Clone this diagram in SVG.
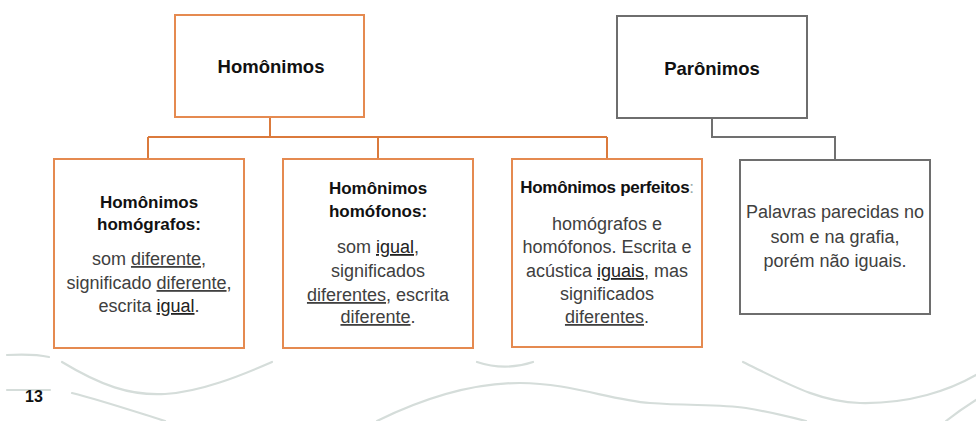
<svg xmlns="http://www.w3.org/2000/svg" width="976" height="421" viewBox="0 0 976 421">
<style>
.bo{fill:#fff;stroke:#E58A50;stroke-width:2}
.bg{fill:#fff;stroke:#6e6e6e;stroke-width:2}
.co{fill:none;stroke:#DB7A3C;stroke-width:2}
.cg{fill:none;stroke:#707070;stroke-width:2}
.sw{fill:none;stroke:#D5DDDA;stroke-width:2.2;stroke-linecap:round}
.t{font-family:"Liberation Sans",Arial,sans-serif;text-anchor:middle}
.h1{font-size:18.5px;font-weight:bold;fill:#111}
.h2{font-size:17px;font-weight:bold;fill:#111}
.b{font-size:18px;fill:#404040}
.u{text-decoration:underline}
</style>
<g id="decor">
<path class="sw" d="M7,355 C25,354 40,355 49,357"/>
<path class="sw" d="M62,362 C100,385 130,396 165,394 C200,392 240,376 272,362"/>
<path class="sw" d="M7,390 L50,390"/>
<path class="sw" d="M72,393 C100,400 130,410 165,421"/>
<path class="sw" d="M477,362 C495,368 515,368 533,362"/>
<path class="sw" d="M377,421 C420,400 470,383 520,383 C570,383 610,400 650,403 C690,406 720,404 746,408 C770,412 790,417 806,421"/>
<path class="sw" d="M743,362 C790,385 820,402 860,403 C910,404 950,390 976,375"/>
<path class="sw" d="M976,400 C965,407 955,414 946,421"/>
<text class="t" x="34" y="402" style="font-size:16px;font-weight:bold;fill:#111">13</text>
</g>
<g id="connectors">
<path class="co" d="M270,117 V137 M148,137 H607 M148,137 V159 M378,137 V159 M607,137 V159"/>
<path class="cg" d="M712,118 V137 H835 V160"/>
</g>
<g id="homonimos">
<rect class="bo" x="175" y="15" width="189" height="102"/>
<text class="t h1" x="271" y="73">Homônimos</text>
</g>
<g id="paronimos">
<rect class="bg" x="617" y="16" width="190" height="102"/>
<text class="t h1" x="712" y="75">Parônimos</text>
</g>
<g id="homografos">
<rect class="bo" x="54" y="159" width="190" height="189"/>
<text class="t h2" x="149" y="208">Homônimos</text>
<text class="t h2" x="149" y="230">homógrafos:</text>
<text class="t b" x="149" y="265">som <tspan class="u">diferente</tspan>,</text>
<text class="t b" x="149" y="289">significado <tspan class="u">diferente</tspan>,</text>
<text class="t b" x="149" y="312">escrita <tspan class="u" style="fill:#222">igual</tspan>.</text>
</g>
<g id="homofonos">
<rect class="bo" x="283" y="159" width="190" height="189"/>
<text class="t h2" x="378" y="194">Homônimos</text>
<text class="t h2" x="378" y="217">homófonos:</text>
<text class="t b" x="378" y="253">som <tspan class="u" style="fill:#222">igual</tspan>,</text>
<text class="t b" x="378" y="277">significados</text>
<text class="t b" x="378" y="301"><tspan class="u">diferentes</tspan>, escrita</text>
<text class="t b" x="378" y="323"><tspan class="u">diferente</tspan>.</text>
</g>
<g id="perfeitos">
<rect class="bo" x="512" y="159" width="190" height="188"/>
<text class="t h2" x="607" y="193" style="letter-spacing:-0.3px">Homônimos perfeitos<tspan style="font-weight:normal;fill:#9aa">:</tspan></text>
<text class="t b" x="607" y="230">homógrafos e</text>
<text class="t b" x="607" y="253">homófonos. Escrita e</text>
<text class="t b" x="607" y="277">acústica <tspan class="u" style="fill:#222">iguais</tspan>, mas</text>
<text class="t b" x="607" y="300">significados</text>
<text class="t b" x="607" y="323"><tspan class="u">diferentes</tspan>.</text>
</g>
<g id="parecidas">
<rect class="bg" x="740" y="160" width="190" height="154"/>
<text class="t b" x="835" y="218">Palavras parecidas no</text>
<text class="t b" x="835" y="243">som e na grafia,</text>
<text class="t b" x="835" y="267">porém não iguais.</text>
</g>
</svg>
